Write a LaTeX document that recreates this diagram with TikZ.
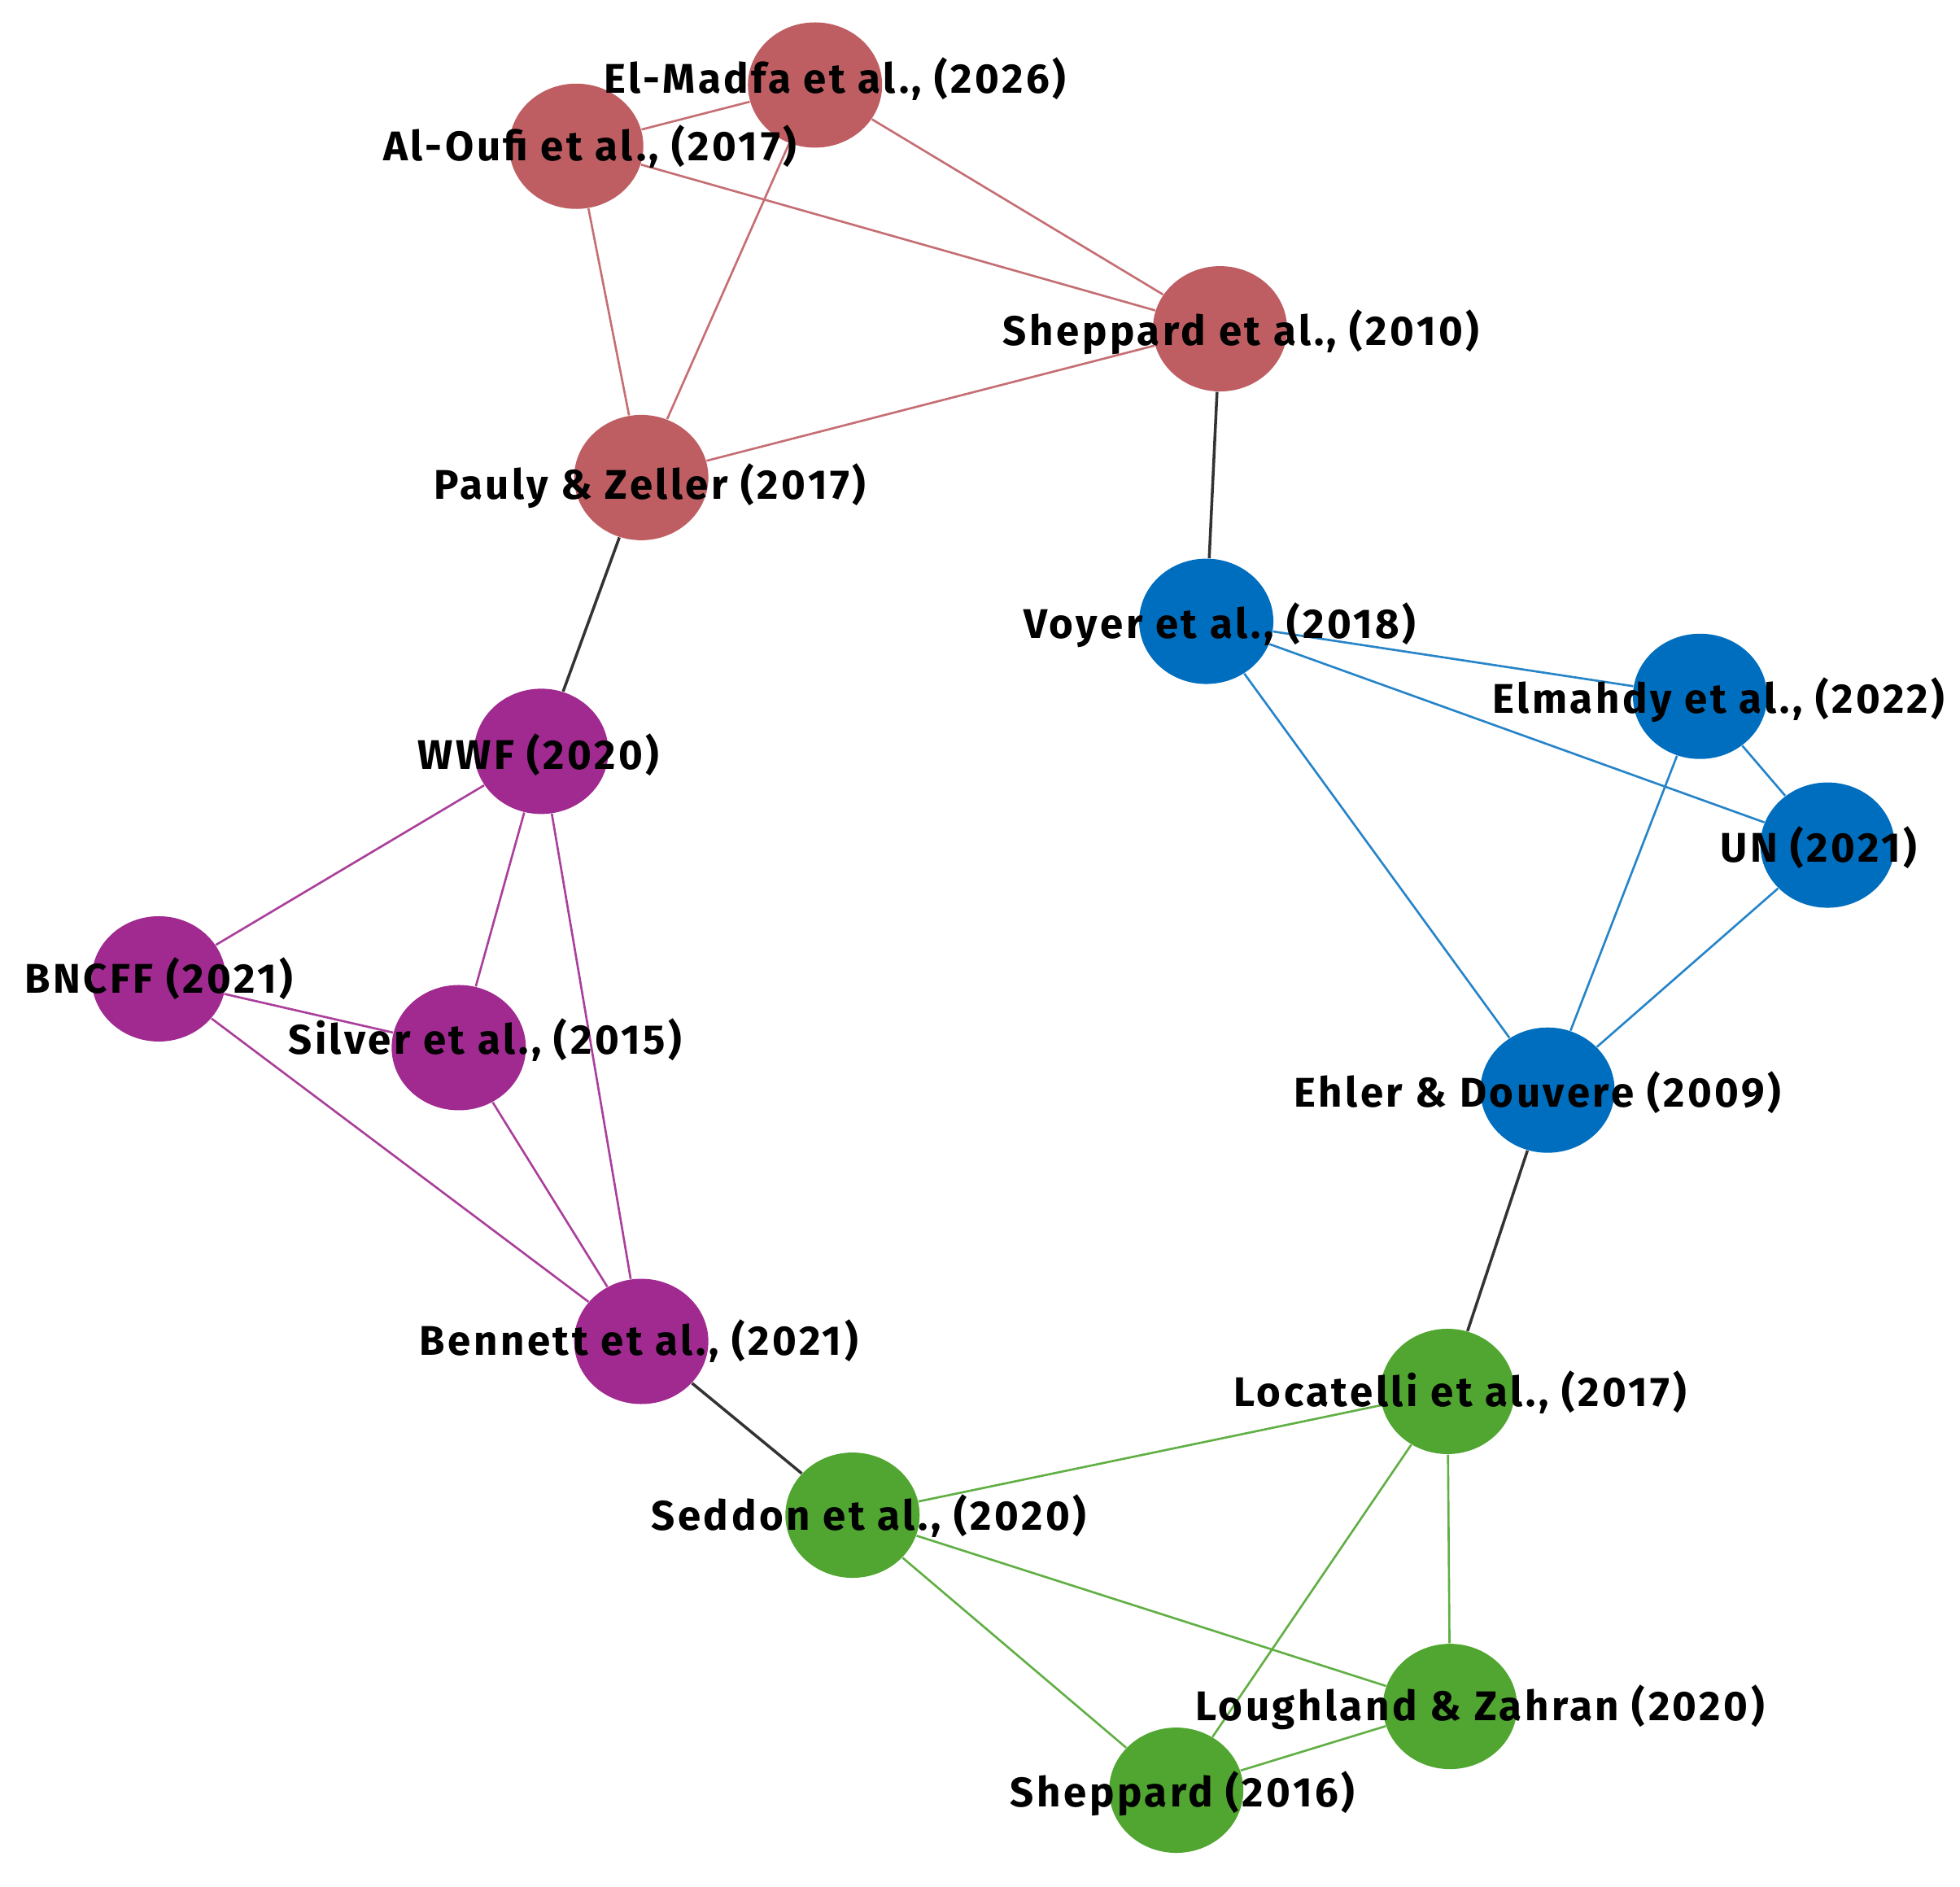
\documentclass[tikz,border=0pt]{standalone}
\usepackage{fontspec}
\setmainfont{Fira Sans}[LetterSpace=7]
\usetikzlibrary{shapes.geometric}
\definecolor{cred}{HTML}{BE5E63}
\definecolor{cblue}{HTML}{006EBE}
\definecolor{cpurple}{HTML}{A02A90}
\definecolor{cgreen}{HTML}{50A630}
\definecolor{clink}{HTML}{333333}
\tikzset{
  dot/.style={ellipse, minimum width=1.65cm, minimum height=1.54cm, inner sep=0pt, draw=none, fill=#1},
  lbl/.style={font=\fontsize{14.5}{16}\selectfont\bfseries, text=black, inner sep=0pt},
  edge/.style={draw=#1, line width=0.75pt},
  bridge/.style={draw=clink, line width=1pt}
}
\begin{document}
\begin{tikzpicture}[x=0.015364cm, y=-0.015364cm]
\useasboundingbox (0,0) rectangle (1568,1509);
% nodes (discs)
\node[dot=cred] (madfa) at (652,68) {};
\node[dot=cred] (oufi) at (461,117) {};
\node[dot=cred] (shep10) at (976,263) {};
\node[dot=cred] (pauly) at (513,382) {};
\node[dot=cpurple] (wwf) at (433,601) {};
\node[dot=cpurple] (bncff) at (127,783) {};
\node[dot=cpurple] (silver) at (367,838) {};
\node[dot=cpurple] (bennett) at (513,1073) {};
\node[dot=cblue] (voyer) at (965,497) {};
\node[dot=cblue] (elmahdy) at (1360,557) {};
\node[dot=cblue] (un) at (1462,676) {};
\node[dot=cblue] (ehler) at (1238,872) {};
\node[dot=cgreen] (loc) at (1158,1113) {};
\node[dot=cgreen] (seddon) at (682,1212) {};
\node[dot=cgreen] (lough) at (1160,1365) {};
\node[dot=cgreen] (shep16) at (941,1432) {};
% red cluster
\draw[edge=cred!90] (madfa) -- (oufi);
\draw[edge=cred!90] (madfa) -- (shep10);
\draw[edge=cred!90] (madfa) -- (pauly);
\draw[edge=cred!90] (oufi) -- (shep10);
\draw[edge=cred!90] (oufi) -- (pauly);
\draw[edge=cred!90] (shep10) -- (pauly);
% purple cluster
\draw[edge=cpurple!90] (wwf) -- (bncff);
\draw[edge=cpurple!90] (wwf) -- (silver);
\draw[edge=cpurple!90] (wwf) -- (bennett);
\draw[edge=cpurple!90] (bncff) -- (silver);
\draw[edge=cpurple!90] (bncff) -- (bennett);
\draw[edge=cpurple!90] (silver) -- (bennett);
% blue cluster
\draw[edge=cblue!85] (voyer) -- (elmahdy);
\draw[edge=cblue!85] (voyer) -- (un);
\draw[edge=cblue!85] (voyer) -- (ehler);
\draw[edge=cblue!85] (elmahdy) -- (un);
\draw[edge=cblue!85] (elmahdy) -- (ehler);
\draw[edge=cblue!85] (un) -- (ehler);
% green cluster
\draw[edge=cgreen!90] (loc) -- (seddon);
\draw[edge=cgreen!90] (loc) -- (lough);
\draw[edge=cgreen!90] (loc) -- (shep16);
\draw[edge=cgreen!90] (seddon) -- (lough);
\draw[edge=cgreen!90] (seddon) -- (shep16);
\draw[edge=cgreen!90] (lough) -- (shep16);
% bridges
\draw[bridge] (shep10) -- (voyer);
\draw[bridge] (pauly) -- (wwf);
\draw[bridge] (ehler) -- (loc);
\draw[bridge] (bennett) -- (seddon);
% labels
\node[lbl] (tmadfa) at (668,63) {El-Madfa et al., (2026)};
\node[lbl] (toufi) at (472,117) {Al-Oufi et al., (2017)};
\node[lbl] (tshep10) at (993,266) {Sheppard et al., (2010)};
\node[lbl] (tpauly) at (520,389) {Pauly \& Zeller (2017)};
\node[lbl] (twwf) at (431,604) {WWF (2020)};
\node[lbl] (tbncff) at (127,783) {BNCFF (2021)};
\node[lbl] (tsilver) at (388,832) {Silver et al., (2015)};
\node[lbl] (tbennett) at (511,1073) {Bennett et al., (2021)};
\node[lbl] (tvoyer) at (976,500) {Voyer et al., (2018)};
\node[lbl] (telmahdy) at (1375,560) {Elmahdy et al., (2022)};
\node[lbl] (tun) at (1455,678) {UN (2021)};
\node[lbl] (tehler) at (1230,874) {Ehler \& Douvere (2009)};
\node[lbl] (tloc) at (1168,1114) {Locatelli et al., (2017)};
\node[lbl] (tseddon) at (695,1213) {Seddon et al., (2020)};
\node[lbl] (tlough) at (1184,1366) {Loughland \& Zahran (2020)};
\node[lbl] (tshep16) at (946,1435) {Sheppard (2016)};
\end{tikzpicture}
\end{document}
